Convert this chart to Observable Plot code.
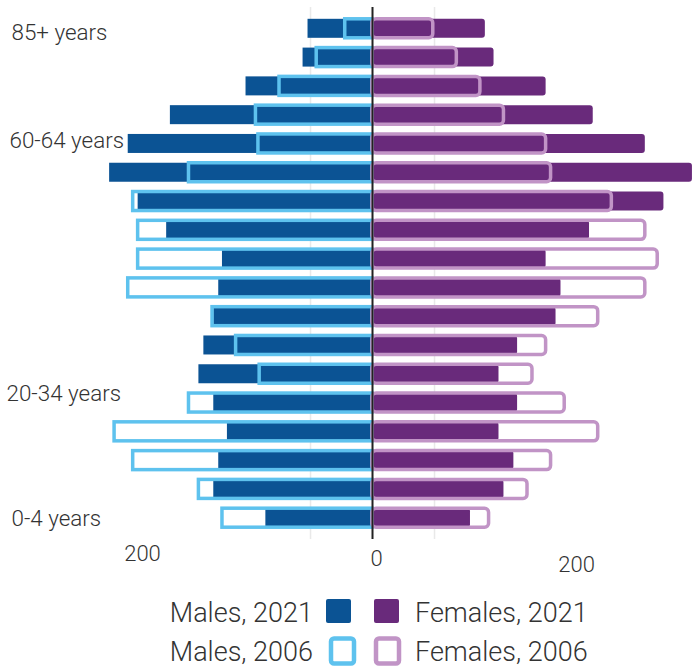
<!DOCTYPE html>
<html>
<head>
<meta charset="utf-8">
<script src="https://cdn.jsdelivr.net/npm/d3@7"></script>
<script src="https://cdn.jsdelivr.net/npm/@observablehq/plot@0.6"></script>
<style>
  body { margin: 0; background: #fff; }
  #wrap { width: 700px; height: 668px; overflow: hidden; }
  #wrap svg { display: block; }
</style>
</head>
<body>
<div id="wrap"></div>
<script>
// Age groups, bottom (youngest) to top (oldest)
const ages = ["0-4","5-9","10-14","15-19","20-24","25-29","30-34","35-39","40-44",
              "45-49","50-54","55-59","60-64","65-69","70-74","75-79","80-84","85+"];
const males2021   = [86,128,124,117,128,140,136,128,124,121,166,189,212,197,163,102,56,52];
const males2006   = [121,140,193,208,148,91,110,129,197,189,189,193,148,92,94,75,45,22];
const females2021 = [79,106,114,102,117,102,117,148,152,140,175,235,258,220,178,140,98,91];
const females2006 = [94,125,144,182,155,129,140,182,220,230,220,193,144,140,106,87,68,49];

const gridTicks = [-50, 50];
const ageTickAt = ["85+","60-64","20-24","0-4"];
const ageTickLabels = ["85+ years","60-64 years","20-34 years","0-4 years"];
const legendLabels = ["Males, 2021","Females, 2021","Males, 2006","Females, 2006"];

const C = { m21: "#0b5394", f21: "#692a7b", m06: "#5ec2ee", f06: "#c194c6" };
const FONT = "Roboto, 'Liberation Sans', Arial, sans-serif";

const rows = ages.map((age, i) => ({
  age, m21: males2021[i], m06: males2006[i], f21: females2021[i], f06: females2006[i]
}));

const labelMark = (i, dx, dy) => Plot.text([ageTickAt[i]], {
  y: d => d, text: () => ageTickLabels[i], frameAnchor: "left", textAnchor: "start",
  dx, dy, fontSize: 22.4, fill: "#333", fontWeight: 300
});
const xLabel = (v, dx, pad) => Plot.axisX([v], {
  tickSize: 0, tickPadding: pad, dx, tickFormat: d => Math.abs(d),
  fontSize: 22, fill: "#333", label: null, fontWeight: 300
});

const chart = Plot.plot({
  width: 700, height: 580,
  marginLeft: 0, marginRight: 0, marginTop: 7, marginBottom: 41,
  style: { fontFamily: FONT, background: "#fff", overflow: "visible" },
  x: { domain: [-300, 264.5], round: false },
  y: { domain: ages.slice().reverse(), paddingInner: 0.34, paddingOuter: 0.41, round: false, axis: null },
  marks: [
    Plot.ruleX(gridTicks, { stroke: "#e9e9e9", strokeWidth: 1.5 }),
    Plot.barX(rows, { y: "age", x1: 0, x2: d => -d.m21, fill: C.m21 }),
    Plot.barX(rows, { y: "age", x1: 0, x2: "f21", fill: C.f21, rx: 3 }),
    Plot.barX(rows, { y: "age", x1: 0, x2: d => -d.m06, fill: "none", stroke: C.m06, strokeWidth: 3.5 }),
    Plot.barX(rows, { y: "age", x1: 0, x2: "f06", fill: "none", stroke: C.f06, strokeWidth: 3.5, rx: 4 }),
    Plot.ruleX([0], { stroke: "#222", strokeWidth: 2 }),
    labelMark(0, 11, 4),
    labelMark(1, 9, -32),
    labelMark(2, 6, -9),
    labelMark(3, 11, 1),
    xLabel(-200, 18, 6),
    xLabel(0, 4, 11),
    xLabel(200, -44, 17)
  ]
});
const wrap = document.getElementById("wrap");
wrap.appendChild(chart);

// Legend (below the plot SVG)
const lg = d3.select(wrap).append("svg").attr("width", 700).attr("height", 88)
  .style("font-family", FONT).style("font-weight", 300);
const items = [
  { text: legendLabels[0], side: "left",  row: 0, color: C.m21, filled: true },
  { text: legendLabels[1], side: "right", row: 0, color: C.f21, filled: true },
  { text: legendLabels[2], side: "left",  row: 1, color: C.m06, filled: false },
  { text: legendLabels[3], side: "right", row: 1, color: C.f06, filled: false }
];
const rowBase = [42, 81];
const rowTop = [19, 57];
items.forEach(it => {
  const left = it.side === "left";
  lg.append("text")
    .attr("x", left ? 313 : 415)
    .attr("y", rowBase[it.row])
    .attr("text-anchor", left ? "end" : "start")
    .attr("font-size", 27).attr("fill", "#333")
    .text(it.text);
  if (it.filled) {
    lg.append("rect")
      .attr("x", left ? 326 : 374).attr("y", rowTop[it.row])
      .attr("width", 25).attr("height", 24).attr("rx", 2)
      .attr("fill", it.color);
  } else {
    lg.append("rect")
      .attr("x", left ? 331 : 376).attr("y", rowTop[it.row] + 1.5)
      .attr("width", 23).attr("height", 25).attr("rx", 3)
      .attr("fill", "none").attr("stroke", it.color).attr("stroke-width", 4.5);
  }
});
</script>
</body>
</html>
